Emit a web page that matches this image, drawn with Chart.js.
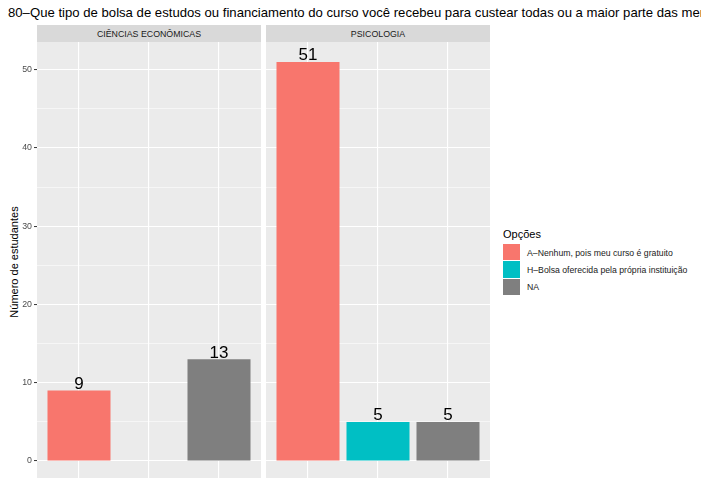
<!DOCTYPE html>
<html>
<head>
<meta charset="utf-8">
<script src="https://cdn.jsdelivr.net/npm/chart.js@4.4.0/dist/chart.umd.min.js"></script>
<style>
  html, body { margin: 0; padding: 0; background: #fff; }
  body { width: 701px; height: 478px; overflow: hidden; position: relative; font-family: "Liberation Sans", Arial, sans-serif; }
  .abs { position: absolute; }
  #titulo { left: 8px; top: 5px; font-size: 13.15px; white-space: nowrap; color: #000; }
  .strip { top: 25px; height: 18px; line-height: 18px; background: #d9d9d9; color: #1a1a1a; font-size: 8.8px; text-align: center; }
  #ytitulo { left: 14px; top: 262px; font-size: 11px; white-space: nowrap; transform: translate(-50%, -50%) rotate(-90deg); color: #000; }
  #legenda { left: 503px; top: 228px; }
  #legenda .tit { font-size: 11px; color: #000; margin-bottom: 4px; }
  #legenda .item { height: 17.3px; display: flex; align-items: center; font-size: 8.7px; color: #1a1a1a; }
  #legenda .key { width: 17px; height: 16.3px; border-bottom: 1px solid #fff; margin-right: 7px; }
</style>
</head>
<body>
<div id="titulo" class="abs"></div>
<div id="strip1" class="abs strip" style="left:37px;width:224px;"></div>
<div id="strip2" class="abs strip" style="left:266px;width:224px;"></div>
<div id="ytitulo" class="abs">Número de estudantes</div>
<div id="legenda" class="abs"></div>
<div class="abs" style="left:0;top:42px;width:261px;height:439px;"><canvas id="c1"></canvas></div>
<div class="abs" style="left:266px;top:42px;width:224px;height:439px;"><canvas id="c2"></canvas></div>
<script>
const titulo = '80–Que tipo de bolsa de estudos ou financiamento do curso você recebeu para custear todas ou a maior parte das mensalidades?';
const cursos = ['CIÊNCIAS ECONÔMICAS', 'PSICOLOGIA'];
const opcoes = ['A–Nenhum, pois meu curso é gratuito', 'H–Bolsa oferecida pela própria instituição', 'NA'];
const cores = ['#F8766D', '#00BFC4', '#7F7F7F'];
const economia = [9, null, 13];
const psicologia = [51, 5, 5];

document.getElementById('titulo').textContent = titulo;
document.getElementById('strip1').textContent = cursos[0];
document.getElementById('strip2').textContent = cursos[1];

const leg = document.getElementById('legenda');
leg.innerHTML = '<div class="tit">Opções</div>';
opcoes.forEach((o, i) => {
  const d = document.createElement('div');
  d.className = 'item';
  d.innerHTML = '<div class="key" style="background:' + cores[i] + '"></div><span>' + o + '</span>';
  leg.appendChild(d);
});

const fundo = {
  id: 'fundo',
  beforeDraw(chart) {
    const a = chart.chartArea, ctx = chart.ctx;
    ctx.save();
    ctx.fillStyle = '#EBEBEB';
    ctx.fillRect(a.left, a.top, a.right - a.left, a.bottom - a.top);
    ctx.restore();
  }
};

const rotulos = {
  id: 'rotulos',
  afterDatasetsDraw(chart) {
    const ctx = chart.ctx;
    const meta = chart.getDatasetMeta(0);
    const vals = chart.data.datasets[0].data;
    ctx.save();
    ctx.fillStyle = '#000';
    ctx.font = '17px "Liberation Sans", Arial, sans-serif';
    ctx.textAlign = 'center';
    ctx.textBaseline = 'alphabetic';
    meta.data.forEach((bar, i) => {
      if (vals[i].y == null) return;
      ctx.fillText(vals[i].y, bar.x, bar.y - 1.5);
    });
    ctx.restore();
  }
};

function montar(id, valores, comEixo) {
  const pontos = valores.map((v, i) => ({x: i + 1, y: v}));
  new Chart(document.getElementById(id), {
    type: 'bar',
    data: {
      datasets: [{
        data: pontos,
        backgroundColor: cores,
        categoryPercentage: 1,
        barPercentage: 0.9
      }]
    },
    options: {
      responsive: true,
      maintainAspectRatio: false,
      animation: false,
      layout: {padding: 0},
      plugins: {legend: {display: false}, tooltip: {enabled: false}},
      scales: {
        x: {
          type: 'linear',
          offset: false,
          min: 0.4,
          max: 3.6,
          ticks: {display: false, stepSize: 1, includeBounds: false},
          grid: {color: '#fff', lineWidth: 1.1, drawTicks: false, offset: false},
          border: {display: false},
          afterFit(s) { s.height = 0; s.paddingLeft = 0; s.paddingRight = 0; }
        },
        y: {
          min: -2.55,
          max: 53.55,
          ticks: {
            display: comEixo,
            stepSize: 5,
            includeBounds: false,
            autoSkip: false,
            padding: 2,
            color: '#4D4D4D',
            font: {size: 8.8, family: '"Liberation Sans", Arial, sans-serif'},
            callback: v => (v % 10 === 0 ? v : '')
          },
          grid: {
            color: '#fff',
            lineWidth: c => (c.tick && c.tick.value % 10 === 0 ? 1.1 : 0.55),
            drawTicks: comEixo,
            tickLength: 3,
            tickWidth: 1,
            tickColor: c => (c.tick && c.tick.value % 10 === 0 ? '#333333' : 'rgba(0,0,0,0)')
          },
          border: {display: false},
          afterFit(s) { s.width = comEixo ? 37 : 0; s.paddingTop = 0; s.paddingBottom = 0; }
        }
      }
    },
    plugins: [fundo, rotulos]
  });
}

montar('c1', economia, true);
montar('c2', psicologia, false);
</script>
</body>
</html>
